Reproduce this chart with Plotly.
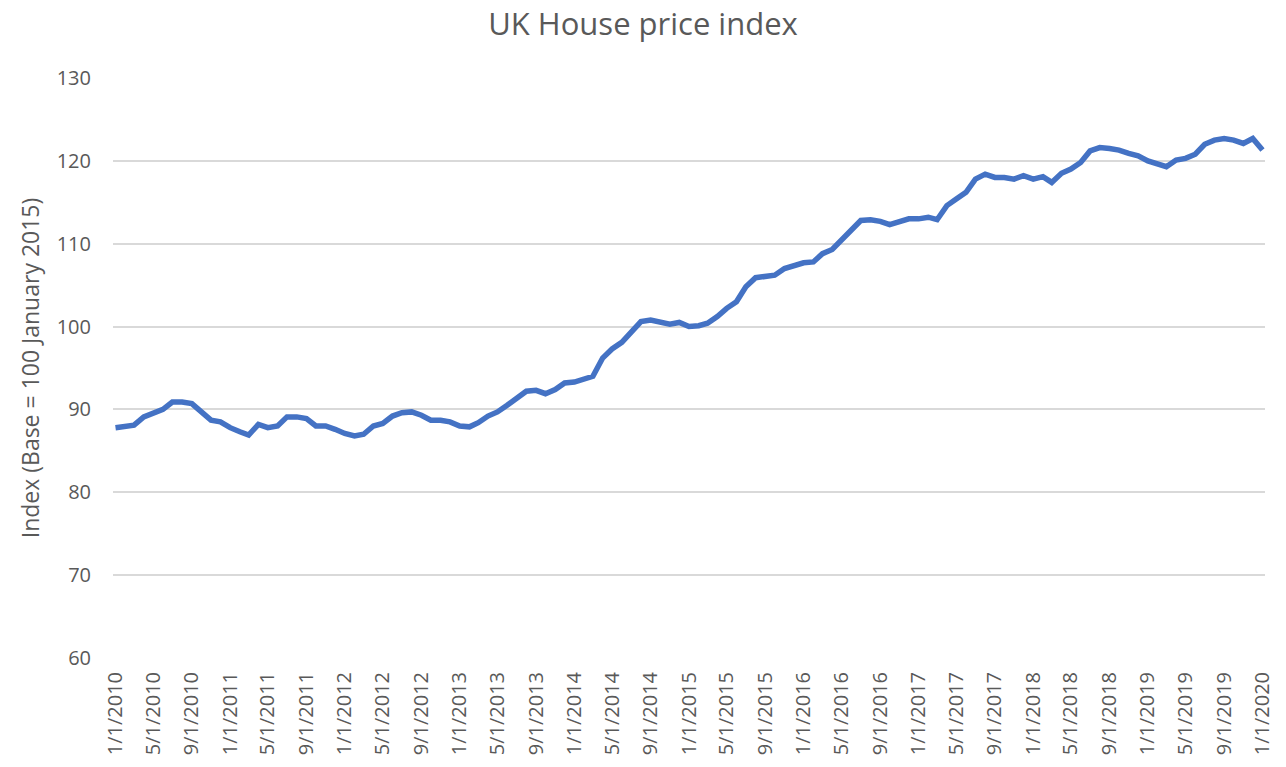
import pandas as pd
import plotly.graph_objects as go

start_month = "2010-01-01"
n_months = 121
index_values = [
    87.8, 88.0, 88.1, 89.1, 89.6, 90.0, 90.9, 90.9, 90.7, 89.8,
    88.7, 88.5, 87.8, 87.3, 86.9, 88.2, 87.8, 88.0, 89.1, 89.1,
    88.9, 88.0, 88.0, 87.6, 87.1, 86.8, 87.0, 88.0, 88.3, 89.2,
    89.6, 89.7, 89.3, 88.7, 88.7, 88.5, 88.0, 87.9, 88.4, 89.2,
    89.7, 90.5, 91.4, 92.2, 92.3, 91.9, 92.4, 93.2, 93.3, 93.6,
    94.0, 96.2, 97.3, 98.1, 99.4, 100.6, 100.8, 100.6, 100.3, 100.5,
    100.0, 100.1, 100.4, 101.2, 102.2, 103.0, 104.8, 105.9, 106.1, 106.2,
    107.0, 107.4, 107.7, 107.8, 108.8, 109.3, 110.4, 111.6, 112.8, 112.9,
    112.7, 112.3, 112.7, 113.0, 113.0, 113.2, 112.9, 114.6, 115.4, 116.2,
    117.8, 118.4, 118.0, 118.0, 117.8, 118.2, 117.8, 118.1, 117.4, 118.5,
    119.0, 119.8, 121.2, 121.6, 121.5, 121.3, 120.9, 120.6, 120.0, 119.6,
    119.3, 120.1, 120.3, 120.8, 122.0, 122.5, 122.7, 122.5, 122.1, 122.7,
    121.3,
]
months = pd.date_range(start_month, periods=n_months, freq="MS")
tick_dates = months[::4]
tick_labels = [f"{d.month}/{d.day}/{d.year}" for d in tick_dates]

TEXT = "#595959"
FONT = "Open Sans"

fig = go.Figure(
    go.Scatter(
        x=months,
        y=index_values,
        mode="lines",
        line=dict(color="#4472C4", width=5.5),
        hoverinfo="x+y",
    )
)

fig.update_layout(
    width=1286,
    height=767,
    paper_bgcolor="white",
    plot_bgcolor="white",
    margin=dict(l=113, r=21, t=78, b=109, autoexpand=False),
    showlegend=False,
    font=dict(family=FONT, color=TEXT, size=20),
    title=dict(
        text="UK House price index",
        x=0.5,
        xanchor="center",
        xref="container",
        yref="container",
        y=0.969,
        yanchor="middle",
        font=dict(family=FONT, size=31, color=TEXT),
    ),
)

fig.update_xaxes(
    type="date",
    automargin=False,
    range=[pd.Timestamp("2009-12-24"), pd.Timestamp("2020-01-09")],
    tickmode="array",
    tickvals=tick_dates,
    ticktext=tick_labels,
    tickangle=-90,
    showgrid=False,
    showline=False,
    zeroline=False,
    ticks="",
    ticklabelstandoff=9,
    tickfont=dict(family=FONT, size=20, color=TEXT),
)

fig.update_yaxes(
    automargin=False,
    range=[60, 130],
    dtick=10,
    tick0=60,
    showgrid=True,
    gridcolor="#D9D9D9",
    gridwidth=1.5,
    zeroline=False,
    showline=False,
    ticks="",
    ticklabelstandoff=21,
    tickfont=dict(family=FONT, size=20, color=TEXT),
    title=dict(text="Index (Base = 100 January 2015)", font=dict(family=FONT, size=23, color=TEXT), standoff=10),
)

# remove the default 8px page margin so the figure sits at the window's top-left corner
fig.write_html(
    "out.html",
    config={"displayModeBar": False},
    post_script="document.body.style.margin='0';",
)
